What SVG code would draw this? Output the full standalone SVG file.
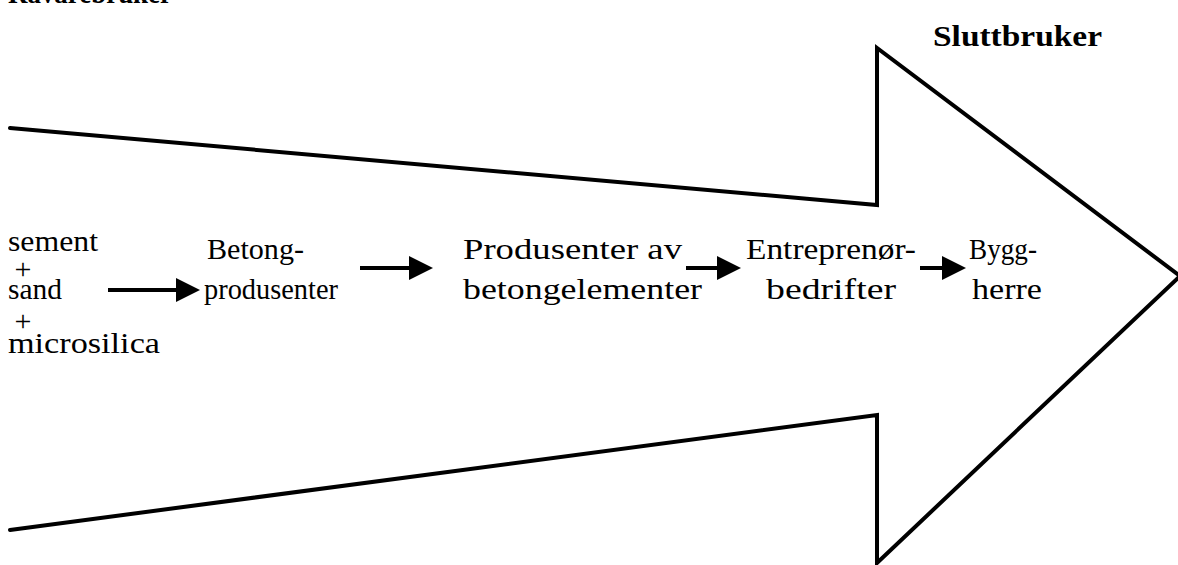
<svg xmlns="http://www.w3.org/2000/svg" width="1178" height="565" viewBox="0 0 1178 565">
  <style>
    .t { font-family: "Liberation Serif", "DejaVu Serif", serif; font-size: 29px; fill: #000; }
    .plus { font-family: "Liberation Serif", "DejaVu Serif", serif; font-size: 30px; fill: #000; text-anchor: middle; }
    .b { font-family: "Liberation Serif", "DejaVu Serif", serif; font-size: 30px; font-weight: bold; fill: #000; }
    .outline { fill: none; stroke: #000; stroke-width: 4; stroke-linejoin: miter; stroke-linecap: round; }
    .flow { stroke: #000; stroke-width: 4; fill: none; }
  </style>
  <defs>
    <marker id="head" markerWidth="6" markerHeight="6" refX="5" refY="3" orient="auto" markerUnits="strokeWidth">
      <path d="M0,0 L6,3 L0,6 Z" fill="#000"/>
    </marker>
  </defs>
  <rect width="1178" height="565" fill="#fff"/>

  <!-- big outline arrow -->
  <g id="big-arrow">
    <path class="outline" d="M10,128 L877,205 L877,48 L1180,276 L877,563 L877,415 L10,530"/>
  </g>

  <!-- headings -->
  <g id="top-left-label">
    <text class="b" x="8" y="3" textLength="164" lengthAdjust="spacingAndGlyphs">Råvarebruker</text>
  </g>
  <g id="sluttbruker">
    <text class="b" x="933" y="46" textLength="169" lengthAdjust="spacingAndGlyphs">Sluttbruker</text>
  </g>

  <!-- raw materials -->
  <g id="raw">
    <text class="t" x="8" y="251" textLength="90" lengthAdjust="spacingAndGlyphs">sement</text>
    <text class="plus" x="23" y="279">+</text>
    <text class="t" x="8" y="299" textLength="54" lengthAdjust="spacingAndGlyphs">sand</text>
    <text class="plus" x="23" y="331">+</text>
    <text class="t" x="8" y="353" textLength="152" lengthAdjust="spacingAndGlyphs">microsilica</text>
  </g>

  <g id="betongprodusenter">
    <text class="t" x="207" y="259" textLength="97" lengthAdjust="spacingAndGlyphs">Betong-</text>
    <text class="t" x="204" y="299" textLength="134" lengthAdjust="spacingAndGlyphs">produsenter</text>
  </g>

  <g id="elementprodusenter">
    <text class="t" x="463" y="259" textLength="219" lengthAdjust="spacingAndGlyphs">Produsenter av</text>
    <text class="t" x="463" y="299" textLength="239" lengthAdjust="spacingAndGlyphs">betongelementer</text>
  </g>

  <g id="entreprenor">
    <text class="t" x="746" y="259" textLength="170" lengthAdjust="spacingAndGlyphs">Entreprenør-</text>
    <text class="t" x="766" y="299" textLength="130" lengthAdjust="spacingAndGlyphs">bedrifter</text>
  </g>

  <g id="byggherre">
    <text class="t" x="969" y="259" textLength="68" lengthAdjust="spacingAndGlyphs">Bygg-</text>
    <text class="t" x="972" y="299" textLength="70" lengthAdjust="spacingAndGlyphs">herre</text>
  </g>

  <!-- flow connectors -->
  <g id="connectors">
    <line class="flow" x1="108" y1="290" x2="196" y2="290" marker-end="url(#head)"/>
    <line class="flow" x1="360" y1="268" x2="429" y2="268" marker-end="url(#head)"/>
    <line class="flow" x1="686" y1="268" x2="737" y2="268" marker-end="url(#head)"/>
    <line class="flow" x1="920" y1="268" x2="962" y2="268" marker-end="url(#head)"/>
  </g>
</svg>
